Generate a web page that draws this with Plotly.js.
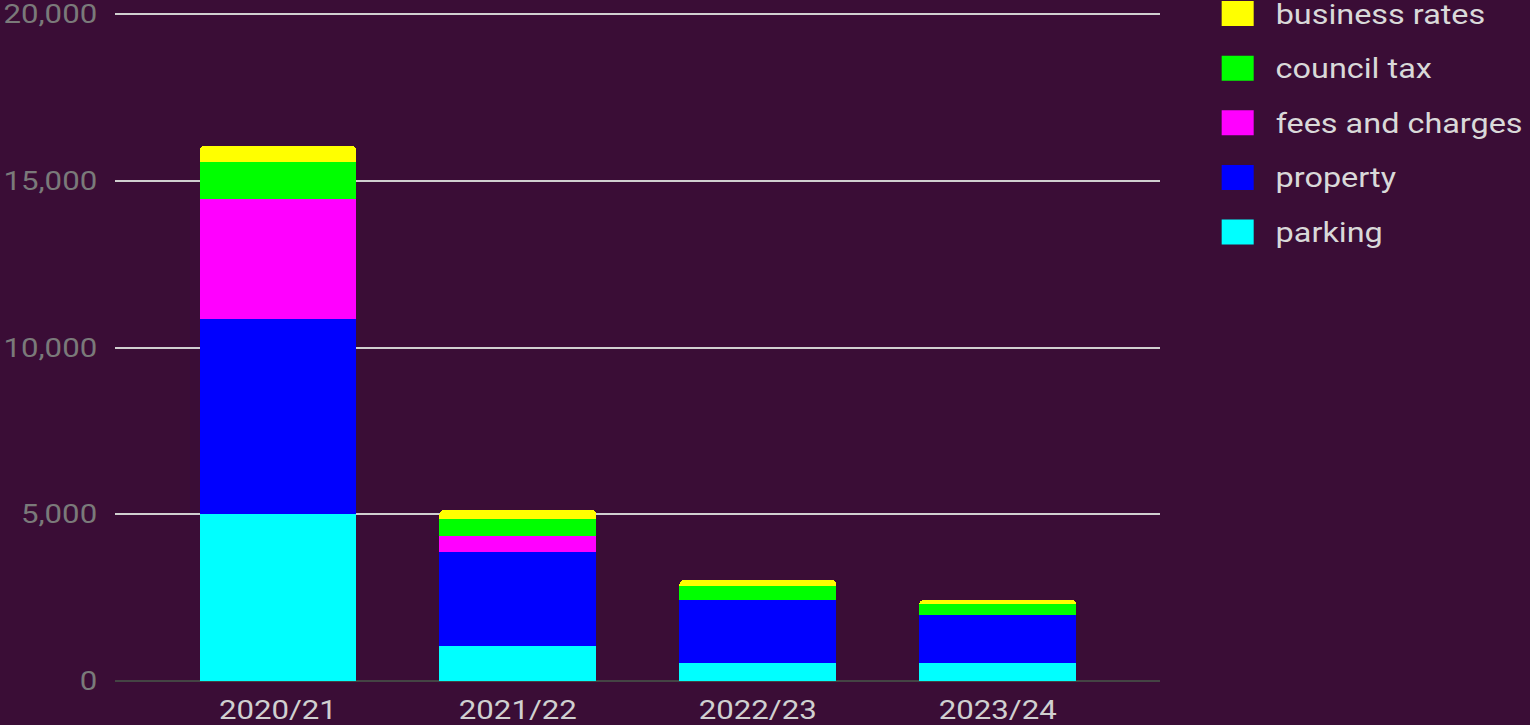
<!DOCTYPE html>
<html>
<head>
<meta charset="utf-8">
<script src="https://cdn.plot.ly/plotly-3.0.1.min.js"></script>
<style>
  html, body { margin: 0; padding: 0; background: #3a0d36; overflow: hidden; }
  #chart { width: 1275px; height: 725px; transform: scaleX(1.2); transform-origin: 0 0; }
</style>
</head>
<body>
<div id="chart"></div>
<script>
// ---- data ----
const categories = ['2020/21', '2021/22', '2022/23', '2023/24'];
const parking = [5000, 1060, 540, 540];
const property = [5850, 2820, 1900, 1440];
const feesAndCharges = [3600, 460, 0, 0];
const councilTax = [1120, 520, 400, 320];
const businessRates = [470, 270, 190, 130];
const yTickValues = [0, 5000, 10000, 15000, 20000];

const seriesNames = ['parking', 'property', 'fees and charges', 'council tax', 'business rates'];
const seriesColors = ['#00ffff', '#0000ff', '#ff00ff', '#00ff00', '#ffff00'];
const seriesValues = [parking, property, feesAndCharges, councilTax, businessRates];

const traces = seriesValues.map((vals, i) => ({
  type: 'bar',
  name: seriesNames[i],
  x: categories,
  y: vals,
  marker: { color: seriesColors[i], line: { width: 0 } },
  showlegend: false,
  hoverinfo: 'x+y+name'
}));

// ---- custom legend (top = business rates, bottom = parking) ----
const plotTop = 10, plotBottom = 681, plotH = plotBottom - plotTop;
const plotLeft = 95.8, plotRight = 967.5, plotW = plotRight - plotLeft;
const shapes = [];
const annotations = [];
const legendOrder = [4, 3, 2, 1, 0];
legendOrder.forEach((si, k) => {
  const cy = 13.6 + k * 54.6;
  const toPy = p => (plotBottom - p) / plotH;
  const toPx = p => (p - plotLeft) / plotW;
  shapes.push({
    type: 'rect', xref: 'paper', yref: 'paper',
    x0: toPx(1018.6), x1: toPx(1045.3),
    y0: toPy(cy + 12.5), y1: toPy(cy - 12.5),
    fillcolor: seriesColors[si], line: { width: 0 }
  });
  annotations.push({
    xref: 'paper', yref: 'paper', x: toPx(1063), y: toPy(cy + 1),
    xanchor: 'left', yanchor: 'middle', showarrow: false,
    text: seriesNames[si], borderpad: 0,
    font: { family: 'Roboto', size: 27, color: '#d9d9d9' }
  });
});

const layout = {
  width: 1275, height: 725,
  paper_bgcolor: '#3a0d36', plot_bgcolor: '#3a0d36',
  margin: { l: 95.8, r: 1275 - 967.5, t: plotTop, b: 725 - plotBottom, pad: 0 },
  barmode: 'stack',
  bargap: 0.347,
  barcornerradius: 4,
  font: { family: 'Roboto', size: 26, color: '#d0d0d0' },
  showlegend: false,
  xaxis: {
    type: 'category',
    range: [-0.678, 3.678],
    showgrid: false, zeroline: false, showline: false,
    ticks: '',
    tickfont: { family: 'Roboto', size: 26, color: '#d0d0d0' },
    ticklabelstandoff: 11
  },
  yaxis: {
    range: [0, 20120],
    tickmode: 'array', tickvals: yTickValues,
    ticktext: yTickValues.map(v => v.toLocaleString('en-US')),
    ticklabeloverflow: 'allow',
    showgrid: true, gridcolor: '#cfcfcf', gridwidth: 2,
    zeroline: true, zerolinecolor: '#444444', zerolinewidth: 2,
    showline: false, ticks: '',
    tickfont: { family: 'Roboto', size: 26, color: '#7a7a7a' },
    ticklabelstandoff: 14
  },
  shapes: shapes,
  annotations: annotations
};

Plotly.newPlot('chart', traces, layout, { displayModeBar: false, staticPlot: true });
</script>
</body>
</html>
